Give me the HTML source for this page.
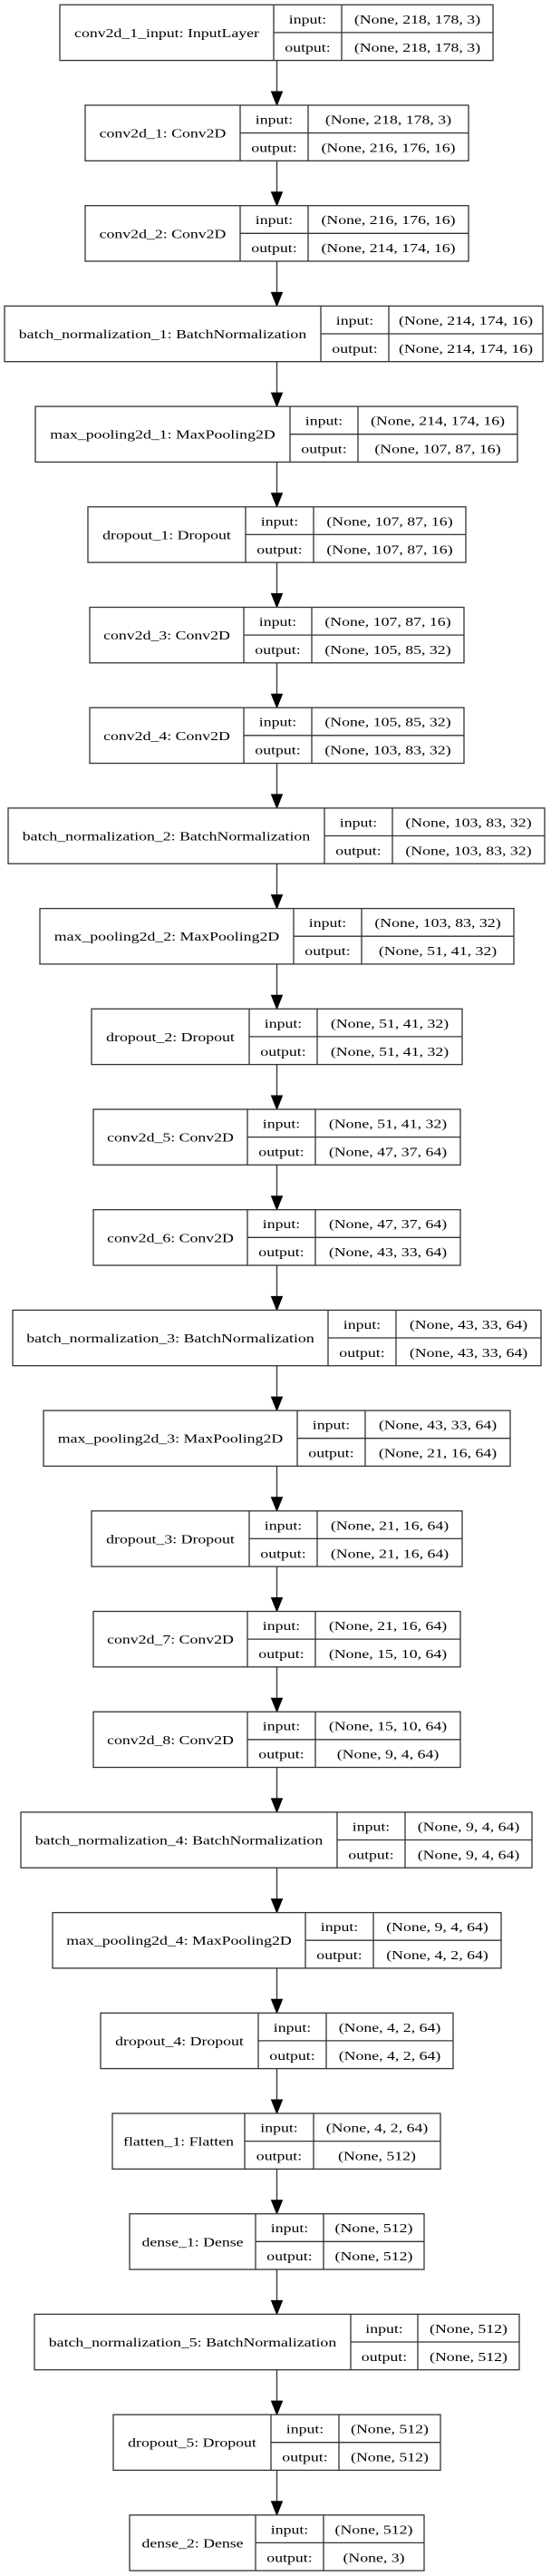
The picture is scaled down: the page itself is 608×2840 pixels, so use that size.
<!DOCTYPE html>
<html><head><meta charset="utf-8"><style>
html,body{margin:0;padding:0;background:#fff;}
svg{display:block}
text{font-family:"Liberation Serif","Times New Roman",serif;font-size:14px;text-anchor:middle;fill:#000}
.b{fill:#fff;stroke:#333;stroke-width:1.3}
.l{stroke:#333;stroke-width:1.3;fill:none}
.a{fill:#000;stroke:#000;stroke-width:1}
</style></head><body>
<svg width="608" height="2840" viewBox="0 0 608 2840" xmlns="http://www.w3.org/2000/svg">
<!-- arrows -->
<g>
<path class="l" d="M305.5 66.6V101 M305.5 177.3V211.7 M305.5 288V322.4 M305.5 398.7V433.1 M305.5 509.4V543.8 M305.5 620.1V654.5 M305.5 730.8V765.2 M305.5 841.5V875.9 M305.5 952.2V986.6 M305.5 1062.9V1097.3 M305.5 1173.6V1208 M305.5 1284.3V1318.7 M305.5 1395V1429.4 M305.5 1505.7V1540.1 M305.5 1616.4V1650.8 M305.5 1727.1V1761.5 M305.5 1837.8V1872.2 M305.5 1948.5V1982.9 M305.5 2059.2V2093.6 M305.5 2169.9V2204.3 M305.5 2280.6V2315 M305.5 2391.3V2425.7 M305.5 2502V2536.4 M305.5 2612.7V2647.1 M305.5 2723.4V2757.8"/>
<path class="a" d="M299.5 101H311.5L305.5 116Z M299.5 211.7H311.5L305.5 226.7Z M299.5 322.4H311.5L305.5 337.4Z M299.5 433.1H311.5L305.5 448.1Z M299.5 543.8H311.5L305.5 558.8Z M299.5 654.5H311.5L305.5 669.5Z M299.5 765.2H311.5L305.5 780.2Z M299.5 875.9H311.5L305.5 890.9Z M299.5 986.6H311.5L305.5 1001.6Z M299.5 1097.3H311.5L305.5 1112.3Z M299.5 1208H311.5L305.5 1223Z M299.5 1318.7H311.5L305.5 1333.7Z M299.5 1429.4H311.5L305.5 1444.4Z M299.5 1540.1H311.5L305.5 1555.1Z M299.5 1650.8H311.5L305.5 1665.8Z M299.5 1761.5H311.5L305.5 1776.5Z M299.5 1872.2H311.5L305.5 1887.2Z M299.5 1982.9H311.5L305.5 1997.9Z M299.5 2093.6H311.5L305.5 2108.6Z M299.5 2204.3H311.5L305.5 2219.3Z M299.5 2315H311.5L305.5 2330Z M299.5 2425.7H311.5L305.5 2440.7Z M299.5 2536.4H311.5L305.5 2551.4Z M299.5 2647.1H311.5L305.5 2662.1Z M299.5 2757.8H311.5L305.5 2772.8Z"/>
</g>

<g transform="translate(0,5.3)"><rect class="b" x="66" y="0" width="478" height="61.3"/><path class="l" d="M302 0V61.3M377 0V61.3M302 30.6H544"/>
<text transform="translate(184,35.6) scale(1.27,1)">conv2d_1_input: InputLayer</text><text transform="translate(339.5,20.5) scale(1.27,1)">input:</text><text transform="translate(339.5,51.5) scale(1.27,1)">output:</text><text transform="translate(460.5,20.5) scale(1.27,1)">(None, 218, 178, 3)</text><text transform="translate(460.5,51.5) scale(1.27,1)">(None, 218, 178, 3)</text></g>

<g transform="translate(0,116)"><rect class="b" x="94" y="0" width="423" height="61.3"/><path class="l" d="M265 0V61.3M340 0V61.3M265 30.6H517"/>
<text transform="translate(179.5,35.6) scale(1.27,1)">conv2d_1: Conv2D</text><text transform="translate(302.5,20.5) scale(1.27,1)">input:</text><text transform="translate(302.5,51.5) scale(1.27,1)">output:</text><text transform="translate(428.5,20.5) scale(1.27,1)">(None, 218, 178, 3)</text><text transform="translate(428.5,51.5) scale(1.27,1)">(None, 216, 176, 16)</text></g>

<g transform="translate(0,226.7)"><rect class="b" x="94" y="0" width="423" height="61.3"/><path class="l" d="M265 0V61.3M340 0V61.3M265 30.6H517"/>
<text transform="translate(179.5,35.6) scale(1.27,1)">conv2d_2: Conv2D</text><text transform="translate(302.5,20.5) scale(1.27,1)">input:</text><text transform="translate(302.5,51.5) scale(1.27,1)">output:</text><text transform="translate(428.5,20.5) scale(1.27,1)">(None, 216, 176, 16)</text><text transform="translate(428.5,51.5) scale(1.27,1)">(None, 214, 174, 16)</text></g>

<g transform="translate(0,337.4)"><rect class="b" x="5" y="0" width="594" height="61.3"/><path class="l" d="M354 0V61.3M429 0V61.3M354 30.6H599"/>
<text transform="translate(179.5,35.6) scale(1.27,1)">batch_normalization_1: BatchNormalization</text><text transform="translate(391.5,20.5) scale(1.27,1)">input:</text><text transform="translate(391.5,51.5) scale(1.27,1)">output:</text><text transform="translate(514,20.5) scale(1.27,1)">(None, 214, 174, 16)</text><text transform="translate(514,51.5) scale(1.27,1)">(None, 214, 174, 16)</text></g>

<g transform="translate(0,448.1)"><rect class="b" x="39" y="0" width="532" height="61.3"/><path class="l" d="M320 0V61.3M395 0V61.3M320 30.6H571"/>
<text transform="translate(179.5,35.6) scale(1.27,1)">max_pooling2d_1: MaxPooling2D</text><text transform="translate(357.5,20.5) scale(1.27,1)">input:</text><text transform="translate(357.5,51.5) scale(1.27,1)">output:</text><text transform="translate(483,20.5) scale(1.27,1)">(None, 214, 174, 16)</text><text transform="translate(483,51.5) scale(1.27,1)">(None, 107, 87, 16)</text></g>

<g transform="translate(0,558.8)"><rect class="b" x="97" y="0" width="417" height="61.3"/><path class="l" d="M271 0V61.3M346 0V61.3M271 30.6H514"/>
<text transform="translate(184,35.6) scale(1.27,1)">dropout_1: Dropout</text><text transform="translate(308.5,20.5) scale(1.27,1)">input:</text><text transform="translate(308.5,51.5) scale(1.27,1)">output:</text><text transform="translate(430,20.5) scale(1.27,1)">(None, 107, 87, 16)</text><text transform="translate(430,51.5) scale(1.27,1)">(None, 107, 87, 16)</text></g>

<g transform="translate(0,669.5)"><rect class="b" x="99" y="0" width="413" height="61.3"/><path class="l" d="M269 0V61.3M344 0V61.3M269 30.6H512"/>
<text transform="translate(184,35.6) scale(1.27,1)">conv2d_3: Conv2D</text><text transform="translate(306.5,20.5) scale(1.27,1)">input:</text><text transform="translate(306.5,51.5) scale(1.27,1)">output:</text><text transform="translate(428,20.5) scale(1.27,1)">(None, 107, 87, 16)</text><text transform="translate(428,51.5) scale(1.27,1)">(None, 105, 85, 32)</text></g>

<g transform="translate(0,780.2)"><rect class="b" x="99" y="0" width="413" height="61.3"/><path class="l" d="M269 0V61.3M344 0V61.3M269 30.6H512"/>
<text transform="translate(184,35.6) scale(1.27,1)">conv2d_4: Conv2D</text><text transform="translate(306.5,20.5) scale(1.27,1)">input:</text><text transform="translate(306.5,51.5) scale(1.27,1)">output:</text><text transform="translate(428,20.5) scale(1.27,1)">(None, 105, 85, 32)</text><text transform="translate(428,51.5) scale(1.27,1)">(None, 103, 83, 32)</text></g>

<g transform="translate(0,890.9)"><rect class="b" x="9" y="0" width="592" height="61.3"/><path class="l" d="M358 0V61.3M433 0V61.3M358 30.6H601"/>
<text transform="translate(183.5,35.6) scale(1.27,1)">batch_normalization_2: BatchNormalization</text><text transform="translate(395.5,20.5) scale(1.27,1)">input:</text><text transform="translate(395.5,51.5) scale(1.27,1)">output:</text><text transform="translate(517,20.5) scale(1.27,1)">(None, 103, 83, 32)</text><text transform="translate(517,51.5) scale(1.27,1)">(None, 103, 83, 32)</text></g>

<g transform="translate(0,1001.6)"><rect class="b" x="44" y="0" width="523" height="61.3"/><path class="l" d="M324 0V61.3M399 0V61.3M324 30.6H567"/>
<text transform="translate(184,35.6) scale(1.27,1)">max_pooling2d_2: MaxPooling2D</text><text transform="translate(361.5,20.5) scale(1.27,1)">input:</text><text transform="translate(361.5,51.5) scale(1.27,1)">output:</text><text transform="translate(483,20.5) scale(1.27,1)">(None, 103, 83, 32)</text><text transform="translate(483,51.5) scale(1.27,1)">(None, 51, 41, 32)</text></g>

<g transform="translate(0,1112.3)"><rect class="b" x="101" y="0" width="409" height="61.3"/><path class="l" d="M275 0V61.3M350 0V61.3M275 30.6H510"/>
<text transform="translate(188,35.6) scale(1.27,1)">dropout_2: Dropout</text><text transform="translate(312.5,20.5) scale(1.27,1)">input:</text><text transform="translate(312.5,51.5) scale(1.27,1)">output:</text><text transform="translate(430,20.5) scale(1.27,1)">(None, 51, 41, 32)</text><text transform="translate(430,51.5) scale(1.27,1)">(None, 51, 41, 32)</text></g>

<g transform="translate(0,1223)"><rect class="b" x="103" y="0" width="405" height="61.3"/><path class="l" d="M273 0V61.3M348 0V61.3M273 30.6H508"/>
<text transform="translate(188,35.6) scale(1.27,1)">conv2d_5: Conv2D</text><text transform="translate(310.5,20.5) scale(1.27,1)">input:</text><text transform="translate(310.5,51.5) scale(1.27,1)">output:</text><text transform="translate(428,20.5) scale(1.27,1)">(None, 51, 41, 32)</text><text transform="translate(428,51.5) scale(1.27,1)">(None, 47, 37, 64)</text></g>

<g transform="translate(0,1333.7)"><rect class="b" x="103" y="0" width="405" height="61.3"/><path class="l" d="M273 0V61.3M348 0V61.3M273 30.6H508"/>
<text transform="translate(188,35.6) scale(1.27,1)">conv2d_6: Conv2D</text><text transform="translate(310.5,20.5) scale(1.27,1)">input:</text><text transform="translate(310.5,51.5) scale(1.27,1)">output:</text><text transform="translate(428,20.5) scale(1.27,1)">(None, 47, 37, 64)</text><text transform="translate(428,51.5) scale(1.27,1)">(None, 43, 33, 64)</text></g>

<g transform="translate(0,1444.4)"><rect class="b" x="14" y="0" width="583" height="61.3"/><path class="l" d="M362 0V61.3M437 0V61.3M362 30.6H597"/>
<text transform="translate(188,35.6) scale(1.27,1)">batch_normalization_3: BatchNormalization</text><text transform="translate(399.5,20.5) scale(1.27,1)">input:</text><text transform="translate(399.5,51.5) scale(1.27,1)">output:</text><text transform="translate(517,20.5) scale(1.27,1)">(None, 43, 33, 64)</text><text transform="translate(517,51.5) scale(1.27,1)">(None, 43, 33, 64)</text></g>

<g transform="translate(0,1555.1)"><rect class="b" x="48" y="0" width="515" height="61.3"/><path class="l" d="M328 0V61.3M403 0V61.3M328 30.6H563"/>
<text transform="translate(188,35.6) scale(1.27,1)">max_pooling2d_3: MaxPooling2D</text><text transform="translate(365.5,20.5) scale(1.27,1)">input:</text><text transform="translate(365.5,51.5) scale(1.27,1)">output:</text><text transform="translate(483,20.5) scale(1.27,1)">(None, 43, 33, 64)</text><text transform="translate(483,51.5) scale(1.27,1)">(None, 21, 16, 64)</text></g>

<g transform="translate(0,1665.8)"><rect class="b" x="101" y="0" width="409" height="61.3"/><path class="l" d="M275 0V61.3M350 0V61.3M275 30.6H510"/>
<text transform="translate(188,35.6) scale(1.27,1)">dropout_3: Dropout</text><text transform="translate(312.5,20.5) scale(1.27,1)">input:</text><text transform="translate(312.5,51.5) scale(1.27,1)">output:</text><text transform="translate(430,20.5) scale(1.27,1)">(None, 21, 16, 64)</text><text transform="translate(430,51.5) scale(1.27,1)">(None, 21, 16, 64)</text></g>

<g transform="translate(0,1776.5)"><rect class="b" x="103" y="0" width="405" height="61.3"/><path class="l" d="M273 0V61.3M348 0V61.3M273 30.6H508"/>
<text transform="translate(188,35.6) scale(1.27,1)">conv2d_7: Conv2D</text><text transform="translate(310.5,20.5) scale(1.27,1)">input:</text><text transform="translate(310.5,51.5) scale(1.27,1)">output:</text><text transform="translate(428,20.5) scale(1.27,1)">(None, 21, 16, 64)</text><text transform="translate(428,51.5) scale(1.27,1)">(None, 15, 10, 64)</text></g>

<g transform="translate(0,1887.2)"><rect class="b" x="103" y="0" width="405" height="61.3"/><path class="l" d="M273 0V61.3M348 0V61.3M273 30.6H508"/>
<text transform="translate(188,35.6) scale(1.27,1)">conv2d_8: Conv2D</text><text transform="translate(310.5,20.5) scale(1.27,1)">input:</text><text transform="translate(310.5,51.5) scale(1.27,1)">output:</text><text transform="translate(428,20.5) scale(1.27,1)">(None, 15, 10, 64)</text><text transform="translate(428,51.5) scale(1.27,1)">(None, 9, 4, 64)</text></g>

<g transform="translate(0,1997.9)"><rect class="b" x="23" y="0" width="564" height="61.3"/><path class="l" d="M372 0V61.3M447 0V61.3M372 30.6H587"/>
<text transform="translate(197.5,35.6) scale(1.27,1)">batch_normalization_4: BatchNormalization</text><text transform="translate(409.5,20.5) scale(1.27,1)">input:</text><text transform="translate(409.5,51.5) scale(1.27,1)">output:</text><text transform="translate(517,20.5) scale(1.27,1)">(None, 9, 4, 64)</text><text transform="translate(517,51.5) scale(1.27,1)">(None, 9, 4, 64)</text></g>

<g transform="translate(0,2108.6)"><rect class="b" x="58" y="0" width="495" height="61.3"/><path class="l" d="M337 0V61.3M412 0V61.3M337 30.6H553"/>
<text transform="translate(197.5,35.6) scale(1.27,1)">max_pooling2d_4: MaxPooling2D</text><text transform="translate(374.5,20.5) scale(1.27,1)">input:</text><text transform="translate(374.5,51.5) scale(1.27,1)">output:</text><text transform="translate(482.5,20.5) scale(1.27,1)">(None, 9, 4, 64)</text><text transform="translate(482.5,51.5) scale(1.27,1)">(None, 4, 2, 64)</text></g>

<g transform="translate(0,2219.3)"><rect class="b" x="111" y="0" width="389" height="61.3"/><path class="l" d="M285 0V61.3M360 0V61.3M285 30.6H500"/>
<text transform="translate(198,35.6) scale(1.27,1)">dropout_4: Dropout</text><text transform="translate(322.5,20.5) scale(1.27,1)">input:</text><text transform="translate(322.5,51.5) scale(1.27,1)">output:</text><text transform="translate(430,20.5) scale(1.27,1)">(None, 4, 2, 64)</text><text transform="translate(430,51.5) scale(1.27,1)">(None, 4, 2, 64)</text></g>

<g transform="translate(0,2330)"><rect class="b" x="124" y="0" width="362" height="61.3"/><path class="l" d="M270 0V61.3M346 0V61.3M270 30.6H486"/>
<text transform="translate(197,35.6) scale(1.27,1)">flatten_1: Flatten</text><text transform="translate(308,20.5) scale(1.27,1)">input:</text><text transform="translate(308,51.5) scale(1.27,1)">output:</text><text transform="translate(416,20.5) scale(1.27,1)">(None, 4, 2, 64)</text><text transform="translate(416,51.5) scale(1.27,1)">(None, 512)</text></g>

<g transform="translate(0,2440.7)"><rect class="b" x="143" y="0" width="325" height="61.3"/><path class="l" d="M282 0V61.3M357 0V61.3M282 30.6H468"/>
<text transform="translate(212.5,35.6) scale(1.27,1)">dense_1: Dense</text><text transform="translate(319.5,20.5) scale(1.27,1)">input:</text><text transform="translate(319.5,51.5) scale(1.27,1)">output:</text><text transform="translate(412.5,20.5) scale(1.27,1)">(None, 512)</text><text transform="translate(412.5,51.5) scale(1.27,1)">(None, 512)</text></g>

<g transform="translate(0,2551.4)"><rect class="b" x="38" y="0" width="535" height="61.3"/><path class="l" d="M387 0V61.3M461 0V61.3M387 30.6H573"/>
<text transform="translate(212.5,35.6) scale(1.27,1)">batch_normalization_5: BatchNormalization</text><text transform="translate(424,20.5) scale(1.27,1)">input:</text><text transform="translate(424,51.5) scale(1.27,1)">output:</text><text transform="translate(517,20.5) scale(1.27,1)">(None, 512)</text><text transform="translate(517,51.5) scale(1.27,1)">(None, 512)</text></g>

<g transform="translate(0,2662.1)"><rect class="b" x="125" y="0" width="361" height="61.3"/><path class="l" d="M299 0V61.3M374 0V61.3M299 30.6H486"/>
<text transform="translate(212,35.6) scale(1.27,1)">dropout_5: Dropout</text><text transform="translate(336.5,20.5) scale(1.27,1)">input:</text><text transform="translate(336.5,51.5) scale(1.27,1)">output:</text><text transform="translate(430,20.5) scale(1.27,1)">(None, 512)</text><text transform="translate(430,51.5) scale(1.27,1)">(None, 512)</text></g>

<g transform="translate(0,2772.8)"><rect class="b" x="143" y="0" width="325" height="61.3"/><path class="l" d="M282 0V61.3M357 0V61.3M282 30.6H468"/>
<text transform="translate(212.5,35.6) scale(1.27,1)">dense_2: Dense</text><text transform="translate(319.5,20.5) scale(1.27,1)">input:</text><text transform="translate(319.5,51.5) scale(1.27,1)">output:</text><text transform="translate(412.5,20.5) scale(1.27,1)">(None, 512)</text><text transform="translate(412.5,51.5) scale(1.27,1)">(None, 3)</text></g>
</svg>
</body></html>
